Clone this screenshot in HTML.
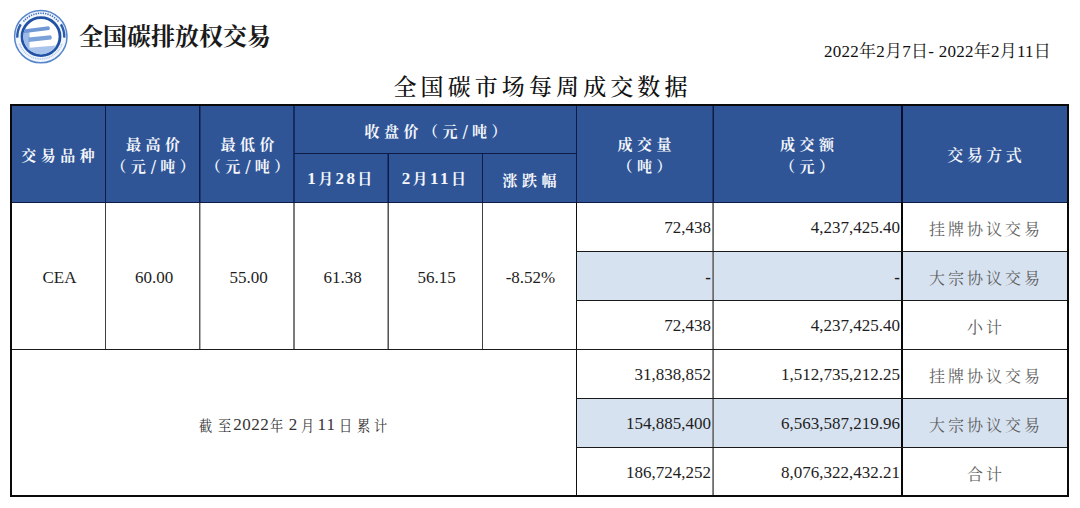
<!DOCTYPE html>
<html lang="zh-CN">
<head>
<meta charset="utf-8">
<title>全国碳市场每周成交数据</title>
<style>
html,body{margin:0;padding:0;background:#fff;}
body{width:1080px;height:508px;position:relative;overflow:hidden;font-family:"Liberation Serif","Noto Serif CJK SC",serif;color:#222;}
.abs{position:absolute;}
.brand{left:79px;top:19px;font-size:24px;font-weight:700;font-family:"Noto Serif CJK SC",serif;color:#1a1a1a;letter-spacing:0px;line-height:32px;white-space:nowrap;}
.date{right:29px;top:40px;font-size:17px;letter-spacing:0.25px;line-height:24px;color:#111;white-space:nowrap;}
.title{left:0;width:1080px;top:71px;text-align:center;font-size:23px;line-height:30px;letter-spacing:4.1px;padding-left:5px;box-sizing:border-box;color:#111;font-family:"Noto Serif CJK SC",serif;font-weight:500;white-space:nowrap;}
.hdr{background:#2f5597;}
.ln{position:absolute;background:#1a1a1a;}
.hl{position:absolute;background:#0d1b45;}
.c{position:absolute;display:flex;align-items:center;justify-content:center;text-align:center;white-space:nowrap;}
.h{color:#f4f6fb;font-family:"Liberation Serif","Noto Serif CJK SC",serif;font-weight:700;font-size:15px;letter-spacing:4.5px;line-height:22px;padding-top:5px;padding-left:4.5px;box-sizing:border-box;}
.h.hd{letter-spacing:2.4px;padding-left:0;padding-right:1px;padding-top:2px;}
.hd{font-weight:700;}
.sl{display:inline-block;width:10px;text-indent:-3.5px;font-weight:400;letter-spacing:0;font-family:"DejaVu Serif",serif;font-size:16px;line-height:10px;vertical-align:0px;}
.dg{font-size:17px;}
.lt{color:#3a3a3a;padding-top:4px;padding-left:2px;box-sizing:border-box;}
.n{font-size:17px;color:#1e1e1e;}
.r{justify-content:flex-end;padding-right:2px;padding-top:2px;box-sizing:border-box;}
.g{font-family:"Noto Serif CJK SC",serif;font-size:16px;letter-spacing:3px;color:#5e5e5e;padding-left:3px;padding-top:2px;box-sizing:border-box;}
.jz{position:absolute;left:0;top:413px;height:24px;width:600px;color:#333;}
.jz span{position:absolute;top:0;line-height:24px;white-space:nowrap;}
.jc{font-family:"Noto Serif CJK SC",serif;font-size:15px;transform:scaleX(0.88);}
.jd{font-family:"Liberation Serif",serif;font-size:17px;}
.lb{position:absolute;background:#d7e2f0;}
</style>
</head>
<body>
<!-- logo -->
<svg class="abs" style="left:0;top:0" width="80" height="75" viewBox="0 0 80 75">
  <defs><clipPath id="ic"><circle cx="41" cy="36.6" r="17.8"/></clipPath></defs>
  <circle cx="40.8" cy="36.6" r="26.2" fill="#f2f6fd" stroke="#5585cc" stroke-width="1.5"/>
  <path d="M23.5 21.5 A22.6 22.6 0 0 1 58.5 21.5" fill="none" stroke="#3f6fbf" stroke-width="1.6" stroke-dasharray="1.3 1.1"/>
  <path d="M19.5 44 A22.6 22.6 0 0 0 62 44" fill="none" stroke="#b3caee" stroke-width="1.6" stroke-dasharray="1 0.8"/>
  <path d="M20.7 24.4 A23.5 23.5 0 0 0 17.3 37.6" fill="none" stroke="#2a5aaa" stroke-width="2.4"/>
  <path d="M60.9 24.4 A23.5 23.5 0 0 1 64.3 37.6" fill="none" stroke="#2a5aaa" stroke-width="2.4"/>
  <circle cx="41" cy="36.6" r="19" fill="#fff" stroke="#2152a4" stroke-width="2.8"/>
  <g clip-path="url(#ic)">
    <polygon points="20,31 29.5,30 29.5,60 20,60" fill="#9fbce8"/>
    <polygon points="20,48.6 62,45 62,60 20,60" fill="#a9c4ec"/>
    <path d="M22 29.6 L48.6 26.2 Q50.8 27.9 49.2 29.9 L22 33.4 Z" fill="#6f98d5"/>
    <path d="M28.5 37.4 L50.6 35.2 Q52.8 37.3 51 39.6 L28.5 42.0 Z" fill="#7aa1da"/>
  </g>
</svg>
<div class="abs brand">全国碳排放权交易</div>
<div class="abs date">2022年2月7日- 2022年2月11日</div>
<div class="abs title">全国碳市场每周成交数据</div>

<!-- header background -->
<div class="abs hdr" style="left:10px;top:104px;width:1059px;height:98px"></div>
<!-- light blue rows -->
<div class="lb" style="left:577px;top:252px;width:490px;height:48px"></div>
<div class="lb" style="left:577px;top:399px;width:490px;height:48px"></div>

<!-- header internal lines -->
<div class="hl" style="left:105px;top:104px;width:1px;height:98px"></div>
<div class="hl" style="left:199px;top:104px;width:1px;height:98px"></div>
<div class="hl" style="left:200px;top:104px;width:1px;height:98px;background:#1d3770"></div>
<div class="hl" style="left:293px;top:104px;width:2px;height:98px;background:#132d64"></div>
<div class="hl" style="left:387px;top:153px;width:1px;height:49px;background:#1d3770"></div>
<div class="hl" style="left:388px;top:153px;width:1px;height:49px"></div>
<div class="hl" style="left:482px;top:153px;width:1px;height:49px"></div>
<div class="hl" style="left:576px;top:104px;width:1px;height:98px"></div>
<div class="hl" style="left:712px;top:104px;width:1px;height:98px;background:#1d3770"></div>
<div class="hl" style="left:713px;top:104px;width:1px;height:98px"></div>
<div class="hl" style="left:901px;top:104px;width:2px;height:98px;background:#060f30"></div>
<div class="hl" style="left:294px;top:153px;width:282px;height:1px"></div>
<div class="hl" style="left:10px;top:202px;width:1059px;height:1px"></div>

<!-- body lines -->
<div class="ln" style="left:105px;top:203px;width:1px;height:146px;background:#404040"></div>
<div class="ln" style="left:199px;top:203px;width:1px;height:146px;background:#5a5a5a"></div>
<div class="ln" style="left:200px;top:203px;width:1px;height:146px;background:#b0b0b0"></div>
<div class="ln" style="left:293px;top:203px;width:2px;height:146px;background:#7a7a7a"></div>
<div class="ln" style="left:387px;top:203px;width:1px;height:146px;background:#a0a0a0"></div>
<div class="ln" style="left:388px;top:203px;width:1px;height:146px;background:#555"></div>
<div class="ln" style="left:482px;top:203px;width:1px;height:146px;background:#404040"></div>
<div class="ln" style="left:576px;top:202px;width:1px;height:294px;background:#111"></div>
<div class="ln" style="left:712px;top:203px;width:1px;height:293px;background:#8a8a8a"></div>
<div class="ln" style="left:713px;top:203px;width:1px;height:293px;background:#6e6e6e"></div>
<div class="ln" style="left:901px;top:202px;width:2px;height:294px;background:#080808"></div>
<div class="ln" style="left:10px;top:349px;width:1059px;height:1px"></div>
<div class="ln" style="left:576px;top:251px;width:493px;height:1px"></div>
<div class="ln" style="left:576px;top:300px;width:493px;height:1px"></div>
<div class="ln" style="left:576px;top:398px;width:493px;height:1px"></div>
<div class="ln" style="left:576px;top:447px;width:493px;height:1px"></div>

<!-- outer border -->
<div class="abs" style="left:10px;top:104px;width:1055px;height:389px;border:2px solid #0a0a0a;"></div>

<!-- header text -->
<div class="c h" style="left:11px;top:105px;width:94px;height:97px"><div>交易品种</div></div>
<div class="c h" style="left:106px;top:105px;width:94px;height:97px"><div>最高价<br>（元<span class="sl">/</span>吨）</div></div>
<div class="c h" style="left:201px;top:105px;width:93px;height:97px"><div>最低价<br>（元<span class="sl">/</span>吨）</div></div>
<div class="c h" style="left:295px;top:105px;width:281px;height:48px"><div>收盘价（元<span class="sl">/</span>吨）</div></div>
<div class="c h hd" style="left:295px;top:154px;width:93px;height:48px"><div><span class="dg">1</span>月<span class="dg">28</span>日</div></div>
<div class="c h hd" style="left:389px;top:154px;width:93px;height:48px"><div><span class="dg">2</span>月<span class="dg">11</span>日</div></div>
<div class="c h" style="left:483px;top:154px;width:93px;height:48px"><div>涨跌幅</div></div>
<div class="c h" style="left:577px;top:105px;width:135px;height:97px"><div>成交量<br>（吨）</div></div>
<div class="c h" style="left:714px;top:105px;width:186px;height:97px"><div>成交额<br>（元）</div></div>
<div class="c h" style="left:903px;top:105px;width:163px;height:97px;font-size:16px;letter-spacing:3.5px;padding-left:3.5px;font-weight:600"><div>交易方式</div></div>

<!-- body CEA block -->
<div class="c n lt" style="left:12px;top:203px;width:93px;height:146px"><div>CEA</div></div>
<div class="c n lt" style="left:106px;top:203px;width:94px;height:146px"><div>60.00</div></div>
<div class="c n lt" style="left:201px;top:203px;width:93px;height:146px"><div>55.00</div></div>
<div class="c n lt" style="left:295px;top:203px;width:93px;height:146px"><div>61.38</div></div>
<div class="c n lt" style="left:389px;top:203px;width:93px;height:146px"><div>56.15</div></div>
<div class="c n lt" style="left:483px;top:203px;width:93px;height:146px"><div>-8.52%</div></div>

<div class="jz"><span class="jc" style="left:198.3px">截</span><span class="jc" style="left:216.9px">至</span><span class="jd" style="left:233.3px">2</span><span class="jd" style="left:242.3px">0</span><span class="jd" style="left:251.3px">2</span><span class="jd" style="left:260.3px">2</span><span class="jc" style="left:269.4px">年</span><span class="jd" style="left:288.8px">2</span><span class="jc" style="left:299.6px">月</span><span class="jd" style="left:317.6px">1</span><span class="jd" style="left:326.5px">1</span><span class="jc" style="left:337.6px">日</span><span class="jc" style="left:355.8px">累</span><span class="jc" style="left:373.0px">计</span></div>

<!-- right block rows -->
<div class="c n r" style="left:577px;top:203px;width:136px;height:48px"><div>72,438</div></div>
<div class="c n r" style="left:714px;top:203px;width:188px;height:48px"><div>4,237,425.40</div></div>
<div class="c g" style="left:903px;top:203px;width:163px;height:48px"><div>挂牌协议交易</div></div>

<div class="c n r" style="left:577px;top:252px;width:136px;height:48px"><div style="font-weight:700;transform:translateY(0.5px)">-</div></div>
<div class="c n r" style="left:714px;top:252px;width:188px;height:48px"><div style="font-weight:700;transform:translateY(0.5px)">-</div></div>
<div class="c g" style="left:903px;top:252px;width:163px;height:48px"><div>大宗协议交易</div></div>

<div class="c n r" style="left:577px;top:301px;width:136px;height:48px"><div>72,438</div></div>
<div class="c n r" style="left:714px;top:301px;width:188px;height:48px"><div>4,237,425.40</div></div>
<div class="c g" style="left:903px;top:301px;width:163px;height:48px"><div>小计</div></div>

<div class="c n r" style="left:577px;top:350px;width:136px;height:48px"><div>31,838,852</div></div>
<div class="c n r" style="left:714px;top:350px;width:188px;height:48px"><div>1,512,735,212.25</div></div>
<div class="c g" style="left:903px;top:350px;width:163px;height:48px"><div>挂牌协议交易</div></div>

<div class="c n r" style="left:577px;top:399px;width:136px;height:48px"><div>154,885,400</div></div>
<div class="c n r" style="left:714px;top:399px;width:188px;height:48px"><div>6,563,587,219.96</div></div>
<div class="c g" style="left:903px;top:399px;width:163px;height:48px"><div>大宗协议交易</div></div>

<div class="c n r" style="left:577px;top:448px;width:136px;height:48px"><div>186,724,252</div></div>
<div class="c n r" style="left:714px;top:448px;width:188px;height:48px"><div>8,076,322,432.21</div></div>
<div class="c g" style="left:903px;top:448px;width:163px;height:48px"><div>合计</div></div>
</body>
</html>
